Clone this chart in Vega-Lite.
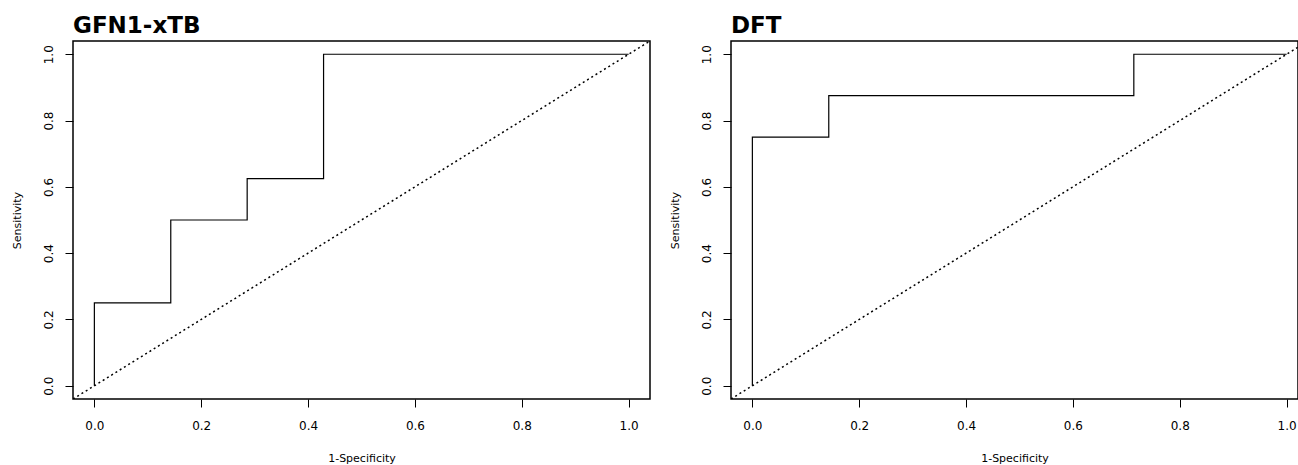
{
  "$schema": "https://vega.github.io/schema/vega-lite/v6.json",
  "padding": {"left": 10, "top": 14, "right": 0, "bottom": 0},
  "background": "white",
  "datasets": {
    "roc": [
      {"model": "GFN1-xTB", "ord": 1, "fpr": 0, "tpr": 0},
      {"model": "GFN1-xTB", "ord": 2, "fpr": 0, "tpr": 0.25},
      {"model": "GFN1-xTB", "ord": 3, "fpr": 0.143, "tpr": 0.25},
      {"model": "GFN1-xTB", "ord": 4, "fpr": 0.143, "tpr": 0.5},
      {"model": "GFN1-xTB", "ord": 5, "fpr": 0.286, "tpr": 0.5},
      {"model": "GFN1-xTB", "ord": 6, "fpr": 0.286, "tpr": 0.625},
      {"model": "GFN1-xTB", "ord": 7, "fpr": 0.429, "tpr": 0.625},
      {"model": "GFN1-xTB", "ord": 8, "fpr": 0.429, "tpr": 1},
      {"model": "GFN1-xTB", "ord": 9, "fpr": 1, "tpr": 1},
      {"model": "DFT", "ord": 1, "fpr": 0, "tpr": 0},
      {"model": "DFT", "ord": 2, "fpr": 0, "tpr": 0.75},
      {"model": "DFT", "ord": 3, "fpr": 0.143, "tpr": 0.75},
      {"model": "DFT", "ord": 4, "fpr": 0.143, "tpr": 0.875},
      {"model": "DFT", "ord": 5, "fpr": 0.714, "tpr": 0.875},
      {"model": "DFT", "ord": 6, "fpr": 0.714, "tpr": 1},
      {"model": "DFT", "ord": 7, "fpr": 1, "tpr": 1}
    ],
    "diag": [
      {"x": -0.04, "y": -0.04},
      {"x": 1.04, "y": 1.04}
    ]
  },
  "config": {
    "view": {"stroke": "black", "strokeWidth": 1.5},
    "font": "DejaVu Sans",
    "axis": {
      "grid": false,
      "domain": false,
      "tickColor": "black",
      "tickSize": 8,
      "tickWidth": 1,
      "labelColor": "black",
      "titleColor": "black",
      "labelFont": "DejaVu Sans",
      "titleFont": "DejaVu Sans",
      "labelFontSize": 12,
      "titleFontSize": 11,
      "titleFontWeight": "normal"
    },
    "axisX": {"labelPadding": 13, "titlePadding": 21},
    "axisY": {"labelAngle": -90, "labelAlign": "center", "labelBaseline": "bottom", "labelPadding": 10, "titlePadding": 20},
    "title": {"font": "DejaVu Sans", "fontSize": 23, "fontWeight": "bold", "anchor": "start", "frame": "group", "color": "black", "offset": 3}
  },
  "spacing": 17,
  "hconcat": [
    {
      "width": 577,
      "height": 358,
      "title": "GFN1-xTB",
      "layer": [
        {
          "data": {"name": "diag"},
          "mark": {"type": "line", "strokeDash": [2, 3], "strokeWidth": 1.5, "color": "black", "clip": true},
          "encoding": {
            "x": {"field": "x", "type": "quantitative", "scale": {"domain": [-0.04, 1.04], "nice": false, "zero": false},
                  "axis": {"values": [0, 0.2, 0.4, 0.6, 0.8, 1.0], "format": ".1f", "title": "1-Specificity"}},
            "y": {"field": "y", "type": "quantitative", "scale": {"domain": [-0.04, 1.04], "nice": false, "zero": false},
                  "axis": {"values": [0, 0.2, 0.4, 0.6, 0.8, 1.0], "format": ".1f", "title": "Sensitivity"}}
          }
        },
        {
          "data": {"name": "roc"},
          "transform": [{"filter": "datum.model === 'GFN1-xTB'"}],
          "mark": {"type": "line", "color": "black", "strokeWidth": 1.2, "clip": true},
          "encoding": {
            "x": {"field": "fpr", "type": "quantitative"},
            "y": {"field": "tpr", "type": "quantitative"},
            "order": {"field": "ord", "type": "quantitative"}
          }
        }
      ]
    },
    {
      "width": 567,
      "height": 358,
      "title": "DFT",
      "layer": [
        {
          "data": {"name": "diag"},
          "mark": {"type": "line", "strokeDash": [2, 3], "strokeWidth": 1.5, "color": "black", "clip": true},
          "encoding": {
            "x": {"field": "x", "type": "quantitative", "scale": {"domain": [-0.04, 1.0213], "nice": false, "zero": false},
                  "axis": {"values": [0, 0.2, 0.4, 0.6, 0.8, 1.0], "format": ".1f", "title": "1-Specificity"}},
            "y": {"field": "y", "type": "quantitative", "scale": {"domain": [-0.04, 1.04], "nice": false, "zero": false},
                  "axis": {"values": [0, 0.2, 0.4, 0.6, 0.8, 1.0], "format": ".1f", "title": "Sensitivity"}}
          }
        },
        {
          "data": {"name": "roc"},
          "transform": [{"filter": "datum.model === 'DFT'"}],
          "mark": {"type": "line", "color": "black", "strokeWidth": 1.2, "clip": true},
          "encoding": {
            "x": {"field": "fpr", "type": "quantitative"},
            "y": {"field": "tpr", "type": "quantitative"},
            "order": {"field": "ord", "type": "quantitative"}
          }
        }
      ]
    }
  ]
}
